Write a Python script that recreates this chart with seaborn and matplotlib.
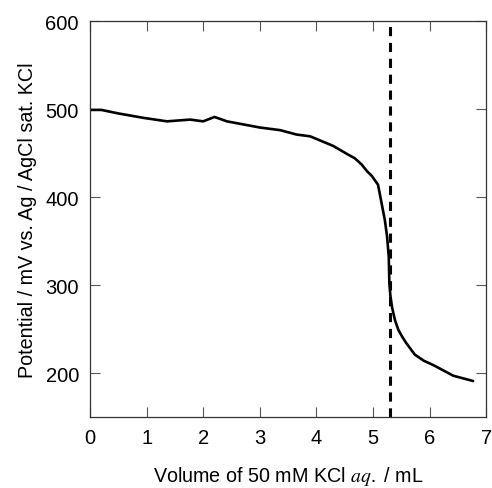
import matplotlib
matplotlib.use("Agg")
import matplotlib.pyplot as plt
import seaborn as sns
import pandas as pd

volume = [0.0, 0.2, 0.5, 0.94, 1.36, 1.77, 2.0, 2.2, 2.42, 3.0, 3.36, 3.65, 3.89, 4.3, 4.54,
          4.68, 4.8, 4.9, 4.98, 5.09, 5.15, 5.21, 5.25, 5.28, 5.29, 5.31, 5.34, 5.39, 5.45,
          5.52, 5.59, 5.74, 5.9, 6.07, 6.42, 6.77]
potential = [499, 499, 495, 490, 486, 488, 486, 491, 486, 479, 476, 471, 469, 458, 449,
             444, 437, 429, 424, 414, 394, 374, 355, 332, 302, 287, 274, 260, 249,
             241, 234, 221, 214, 209, 197, 191]
endpoint = 5.30

sns.set_theme(style="white")
plt.rcParams['font.family'] = ['Liberation Sans', 'DejaVu Sans']
plt.rcParams['mathtext.fontset'] = 'stix'
plt.rcParams['text.color'] = 'black'
plt.rcParams['axes.labelcolor'] = 'black'
plt.rcParams['xtick.color'] = 'black'
plt.rcParams['ytick.color'] = 'black'

df = pd.DataFrame({"Volume": volume, "Potential": potential})

fig = plt.figure(figsize=(4.92, 4.89), dpi=100)
ax = fig.add_axes([0.183, 0.145, 0.805, 0.81])
sns.lineplot(data=df, x="Volume", y="Potential", ax=ax, color="black", linewidth=1.9)
ax.axvline(endpoint, color="black", linestyle=(0, (3, 2.2)), linewidth=2.2)

ax.set_xlim(0, 7)
ax.set_ylim(150, 600)
ax.set_xticks(range(0, 8))
ax.set_yticks([200, 300, 400, 500, 600])
ax.tick_params(direction="in", length=7, width=0.8, color="#555555", labelsize=14.5,
               labelcolor="black", top=True, right=True, bottom=True, left=True, pad=8)
for s in ax.spines.values():
    s.set_color("#333333")
    s.set_linewidth(0.9)
ax.set_xlabel("Volume of 50 mM KCl $aq.$ / mL", fontsize=14.2, labelpad=12)
ax.set_ylabel("Potential / mV vs. Ag / AgCl sat. KCl", fontsize=14.2, labelpad=6)

fig.savefig("out.png", dpi=100)
